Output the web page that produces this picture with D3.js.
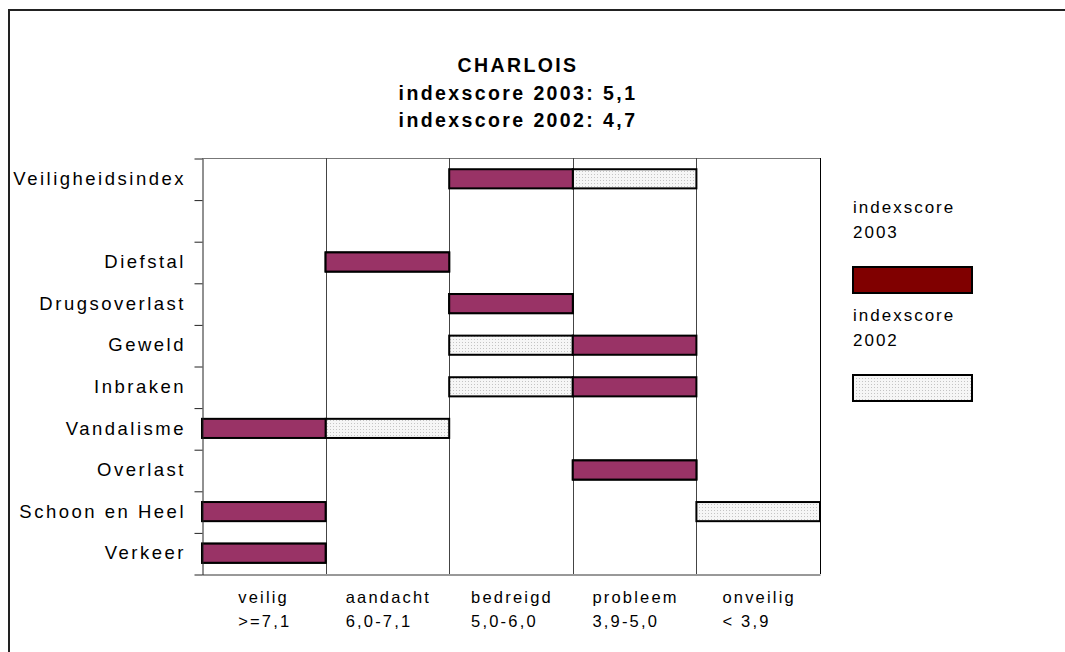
<!DOCTYPE html>
<html>
<head>
<meta charset="utf-8">
<script src="https://cdn.jsdelivr.net/npm/d3@7"></script>
<style>
body { margin: 0; background: #fff; }
svg text { font-family: "Liberation Sans", Arial, sans-serif; fill: #000; }
</style>
</head>
<body>
<div class="vis"></div>
<script>
// size of the picture
var w = 1065;
var h = 652;

// plot area
margin = ({top: 158, right: 245, bottom: 78, left: 202});

// rows from top to bottom ("" = empty row under the index)
var rows = ["Veiligheidsindex", "", "Diefstal", "Drugsoverlast", "Geweld", "Inbraken",
            "Vandalisme", "Overlast", "Schoon en Heel", "Verkeer"];

// the five score classes and their ranges
var classes = ["veilig", "aandacht", "bedreigd", "probleem", "onveilig"];
var classRanges = [">=7,1", "6,0-7,1", "5,0-6,0", "3,9-5,0", "< 3,9"];

// class per row, per year
var score2003 = ["bedreigd", null, "aandacht", "bedreigd", "probleem", "probleem",
                 "veilig", "probleem", "veilig", "veilig"];
var score2002 = ["probleem", null, "aandacht", "bedreigd", "bedreigd", "bedreigd",
                 "aandacht", "probleem", "onveilig", "veilig"];

var titleLines = ["CHARLOIS", "indexscore 2003: 5,1", "indexscore 2002: 4,7"];
var seriesNames = [["indexscore", "2003"], ["indexscore", "2002"]];

var colour2003 = "#993366";
var legend2003 = "#800000";

var svg = d3.select(".vis")
    .append("svg")
    .attr("width", w)
    .attr("height", h);

// dotted fill for 2002
var pat = svg.append("defs").append("pattern")
    .attr("id", "dots")
    .attr("width", 3).attr("height", 3)
    .attr("patternUnits", "userSpaceOnUse");
pat.append("rect").attr("width", 3).attr("height", 3).attr("fill", "#f6f6f6");
pat.append("rect").attr("width", 1).attr("height", 1).attr("fill", "#c4c4c4");

// outer frame (left and top only)
svg.append("path")
    .attr("d", "M9," + h + "V10H" + w)
    .attr("fill", "none")
    .attr("stroke", "#222")
    .attr("stroke-width", 2);

// title
svg.append("g").selectAll("text")
    .data(titleLines)
    .enter()
    .append("text")
    .attr("x", 518)
    .attr("y", function(d, i) { return 72 + i * 27.5; })
    .attr("text-anchor", "middle")
    .style("font-size", "19.5px")
    .style("font-weight", "bold")
    .style("letter-spacing", "2.4px")
    .text(function(d) { return d; });

// scales
var xScale = d3.scaleBand()
    .domain(classes)
    .range([margin.left, w - margin.right])
    .padding(0);

var yScale = d3.scaleBand()
    .domain(d3.range(rows.length))
    .range([margin.top, h - margin.bottom])
    .padding(0);

var yEdges = d3.scaleLinear()
    .domain([0, rows.length])
    .range([margin.top, h - margin.bottom]);

var barH = yScale.bandwidth() * 0.46;

// top border of plot area
svg.append("line")
    .attr("x1", margin.left).attr("x2", w - margin.right)
    .attr("y1", margin.top + 0.5).attr("y2", margin.top + 0.5)
    .attr("stroke", "#777");

// vertical lines between the classes + right border
svg.append("g").selectAll("line")
    .data(classes)
    .enter()
    .append("line")
    .attr("x1", function(d) { return Math.round(xScale(d) + xScale.bandwidth()) + 0.5; })
    .attr("x2", function(d) { return Math.round(xScale(d) + xScale.bandwidth()) + 0.5; })
    .attr("y1", margin.top)
    .attr("y2", h - margin.bottom)
    .attr("stroke", function(d, i) { return i == classes.length - 1 ? "#000" : "#444"; });

// bars, 2002 first so 2003 sits on top
var series = [
    {key: "2002", fill: "url(#dots)", data: score2002},
    {key: "2003", fill: colour2003, data: score2003}
];

var groups = svg.selectAll("g.layer")
    .data(series)
    .enter()
    .append("g")
    .attr("class", "layer")
    .style("fill", function(d) { return d.fill; });

groups.selectAll("rect")
    .data(function(d) {
        return d.data.map(function(c, i) { return {row: i, cls: c}; })
            .filter(function(e) { return e.cls; });
    })
    .enter()
    .append("rect")
    .attr("x", function(d) { return xScale(d.cls); })
    .attr("y", function(d) { return yScale(d.row) + (yScale.bandwidth() - barH) / 2; })
    .attr("width", xScale.bandwidth())
    .attr("height", barH)
    .attr("stroke", "#000")
    .attr("stroke-width", 2);

// y axis: ticks on row edges
var yAxis = d3.axisLeft(yEdges)
    .tickValues(d3.range(rows.length + 1))
    .tickSize(8)
    .tickSizeOuter(0)
    .tickFormat("");

svg.append("g")
    .attr("class", "y-axis")
    .attr("transform", "translate(" + (margin.left + 0.5) + ",0.5)")
    .call(yAxis)
    .selectAll("path, line").attr("stroke", "#222");

// row labels
var yLabels = d3.axisLeft(yScale)
    .tickSize(0)
    .tickPadding(16)
    .tickFormat(function(i) { return rows[i]; });

var yl = svg.append("g")
    .attr("transform", "translate(" + margin.left + ",0)")
    .call(yLabels);
yl.select(".domain").remove();
yl.selectAll("text")
    .attr("dy", "0.33em")
    .style("font-size", "18.5px")
    .style("letter-spacing", "2.5px")
    .style("font-family", "'Liberation Sans', Arial, sans-serif")
    .attr("fill", "#000");

// bottom line
var xAxis = d3.axisBottom(xScale).tickSize(0).tickFormat("");
var xa = svg.append("g")
    .attr("class", "x-axis")
    .attr("transform", "translate(0," + (h - margin.bottom + 0.5) + ")")
    .call(xAxis);
xa.select(".domain").attr("stroke", "#333");

// class labels under the plot, two lines, left aligned and centred as a block
var xl = svg.append("g").selectAll("g")
    .data(classes)
    .enter()
    .append("g");

xl.append("text")
    .attr("y", 603)
    .text(function(d) { return d; });
xl.append("text")
    .attr("y", 627)
    .text(function(d, i) { return classRanges[i]; });
xl.selectAll("text")
    .style("font-size", "16.5px")
    .style("letter-spacing", "2.2px");
xl.each(function(d) {
    var g = d3.select(this);
    var maxW = 0;
    g.selectAll("text").each(function() {
        maxW = Math.max(maxW, this.getComputedTextLength());
    });
    g.selectAll("text").attr("x", xScale(d) + xScale.bandwidth() / 2 - maxW / 2 + 1);
});

// legend
var legend = svg.append("g").attr("transform", "translate(853,0)");
var legendItems = legend.selectAll("g")
    .data(seriesNames)
    .enter()
    .append("g")
    .attr("transform", function(d, i) { return "translate(0," + (i * 108) + ")"; });

legendItems.append("text")
    .attr("y", 213)
    .text(function(d) { return d[0]; });
legendItems.append("text")
    .attr("y", 238)
    .text(function(d) { return d[1]; });
legendItems.selectAll("text")
    .style("font-size", "17px")
    .style("letter-spacing", "2px");

legendItems.append("rect")
    .attr("x", 0)
    .attr("y", 267)
    .attr("width", 119)
    .attr("height", 26)
    .attr("fill", function(d, i) { return i == 0 ? legend2003 : "url(#dots)"; })
    .attr("stroke", "#000")
    .attr("stroke-width", 2);
</script>
</body>
</html>
